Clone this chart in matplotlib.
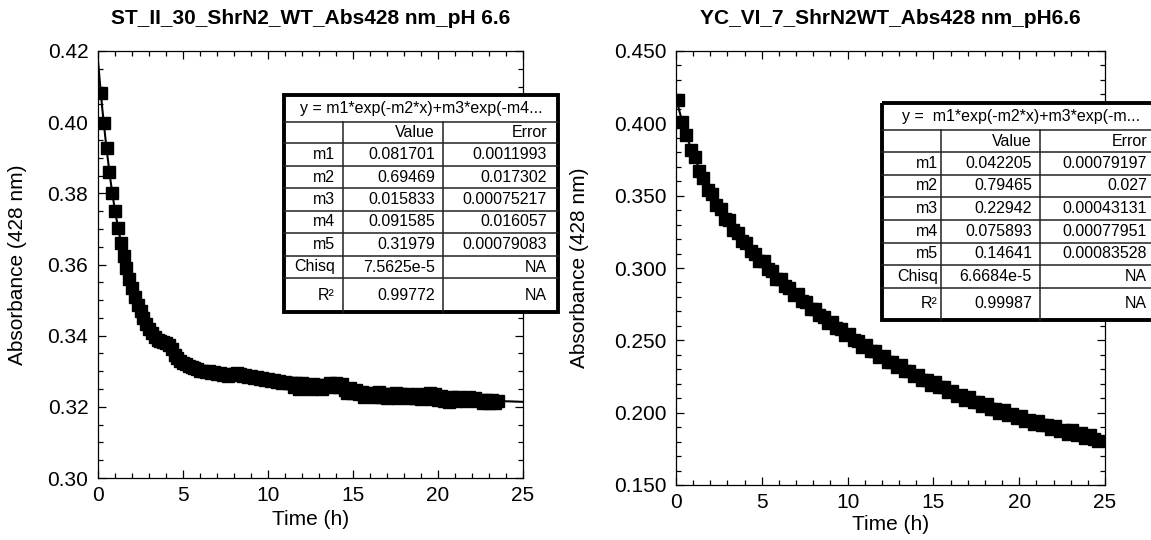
import numpy as np
import matplotlib
matplotlib.use('Agg')
import matplotlib.pyplot as plt
from matplotlib.ticker import MultipleLocator, FormatStrFormatter
from matplotlib.patches import Rectangle

plt.rcParams['font.family'] = ['Liberation Sans', 'DejaVu Sans']

# ---- left run: ST_II_30, one reading every 10 min
time_left = np.arange(1, 142) / 6
abs_left = [
    0.4081, 0.3999, 0.3926, 0.3861, 0.3802, 0.3750, 0.3703, 0.3661, 0.3624, 0.3590,
    0.3560, 0.3533, 0.3509, 0.3487, 0.3468, 0.3450, 0.3434, 0.3420, 0.3407, 0.3395,
    0.3388, 0.3384, 0.3381, 0.3379, 0.3373, 0.3362, 0.3347, 0.3337, 0.3330, 0.3324,
    0.3319, 0.3315, 0.3312, 0.3308, 0.3305, 0.3302, 0.3301, 0.3298, 0.3300, 0.3295,
    0.3297, 0.3292, 0.3294, 0.3289, 0.3291, 0.3288, 0.3290, 0.3293, 0.3295, 0.3292,
    0.3287, 0.3289, 0.3284, 0.3286, 0.3281, 0.3283, 0.3278, 0.3280, 0.3275, 0.3277,
    0.3272, 0.3275, 0.3270, 0.3272, 0.3268, 0.3270, 0.3266, 0.3268, 0.3255, 0.3268,
    0.3250, 0.3266, 0.3252, 0.3262, 0.3249, 0.3265, 0.3253, 0.3260, 0.3250, 0.3262,
    0.3258, 0.3266, 0.3255, 0.3267, 0.3256, 0.3263, 0.3248, 0.3240, 0.3252, 0.3238,
    0.3248, 0.3236, 0.3242, 0.3228, 0.3240, 0.3230, 0.3238, 0.3227, 0.3241, 0.3229,
    0.3237, 0.3226, 0.3236, 0.3228, 0.3239, 0.3225, 0.3235, 0.3227, 0.3236, 0.3224,
    0.3234, 0.3226, 0.3235, 0.3223, 0.3233, 0.3225, 0.3238, 0.3222, 0.3236, 0.3220,
    0.3230, 0.3216, 0.3224, 0.3214, 0.3228, 0.3217, 0.3227, 0.3219, 0.3226, 0.3217,
    0.3228, 0.3218, 0.3226, 0.3216, 0.3220, 0.3212, 0.3220, 0.3211, 0.3219, 0.3212,
    0.3216,
]
fit_x_left = [0, 0.1, 0.25, 0.5, 0.75, 1, 1.5, 2, 3, 4, 5, 7, 10, 13, 16, 19, 22, 25]
fit_y_left = [0.4173, 0.4117, 0.4039, 0.3926, 0.3831, 0.3750, 0.3624, 0.3533, 0.3420,
              0.3358, 0.3323, 0.3289, 0.3262, 0.3246, 0.3235, 0.3226, 0.3219, 0.3214]

# ---- right run: YC_VI_7
time_right = np.arange(99) * 0.25 + 0.1
abs_right = [
    0.4160, 0.4007, 0.3922, 0.3815, 0.3766, 0.3673, 0.3623, 0.3542, 0.3512, 0.3438,
    0.3405, 0.3342, 0.3329, 0.3266, 0.3243, 0.3184, 0.3173, 0.3116, 0.3097, 0.3046,
    0.3045, 0.2992, 0.2978, 0.2927, 0.2923, 0.2873, 0.2860, 0.2816, 0.2820, 0.2772,
    0.2763, 0.2716, 0.2717, 0.2672, 0.2663, 0.2622, 0.2630, 0.2586, 0.2580, 0.2537,
    0.2542, 0.2500, 0.2494, 0.2457, 0.2468, 0.2428, 0.2424, 0.2384, 0.2392, 0.2353,
    0.2350, 0.2315, 0.2329, 0.2291, 0.2290, 0.2253, 0.2263, 0.2226, 0.2225, 0.2193,
    0.2209, 0.2174, 0.2175, 0.2140, 0.2152, 0.2117, 0.2119, 0.2089, 0.2107, 0.2073,
    0.2076, 0.2043, 0.2057, 0.2024, 0.2027, 0.1999, 0.2018, 0.1986, 0.1991, 0.1960,
    0.1975, 0.1944, 0.1948, 0.1921, 0.1943, 0.1912, 0.1918, 0.1888, 0.1905, 0.1875,
    0.1881, 0.1855, 0.1877, 0.1848, 0.1856, 0.1826, 0.1844, 0.1815, 0.1805,
]
fit_x_right = [0, 0.1, 0.25, 0.5, 1, 2, 3, 4, 6, 8, 10, 12.5, 15, 17.5, 20, 22.5, 25]
fit_y_right = [0.4180, 0.4130, 0.4061, 0.3956, 0.3781, 0.3521, 0.3330, 0.3175, 0.2923,
               0.2715, 0.2538, 0.2352, 0.2199, 0.2072, 0.1967, 0.1880, 0.1808]

# ---- fit result tables
row_names = ['m1', 'm2', 'm3', 'm4', 'm5', 'Chisq', 'R²']
left_values = ['0.081701', '0.69469', '0.015833', '0.091585', '0.31979', '7.5625e-5', '0.99772']
left_errors = ['0.0011993', '0.017302', '0.00075217', '0.016057', '0.00079083', 'NA', 'NA']
right_values = ['0.042205', '0.79465', '0.22942', '0.075893', '0.14641', '6.6684e-5', '0.99987']
right_errors = ['0.00079197', '0.027', '0.00043131', '0.00077951', '0.00083528', 'NA', 'NA']

W, H = 1151, 540
fig = plt.figure(figsize=(W / 100, H / 100), dpi=100)


def px_box(x0, y0, x1, y1):
    """figure-fraction rect from pixel corners"""
    return [x0 / W, 1 - y1 / H, (x1 - x0) / W, (y1 - y0) / H]


def style_axes(ax, ylim, ymaj, ymin, fmt, ylab_x, xlab_y):
    ax.set_xlim(0, 25)
    ax.set_ylim(*ylim)
    ax.xaxis.set_major_locator(MultipleLocator(5))
    ax.xaxis.set_minor_locator(MultipleLocator(1))
    ax.yaxis.set_major_locator(MultipleLocator(ymaj))
    ax.yaxis.set_minor_locator(MultipleLocator(ymin))
    ax.yaxis.set_major_formatter(FormatStrFormatter(fmt))
    ax.tick_params(which='both', direction='in', top=True, right=True,
                   labelsize=15, width=0.9, colors='black')
    ax.tick_params(which='major', length=6)
    ax.tick_params(which='minor', length=3.5)
    ax.tick_params(axis='y', pad=7)
    ax.tick_params(axis='x', pad=6)
    for s in ax.spines.values():
        s.set_linewidth(0.9)
    ax.set_xlabel('Time (h)', fontsize=15)
    ax.set_ylabel('Absorbance (428 nm)', fontsize=15)
    ax.yaxis.set_label_coords(ylab_x, 0.5)
    ax.xaxis.set_label_coords(0.5, xlab_y)


ax1 = fig.add_axes(px_box(98, 51, 523, 478))
ax1.plot(fit_x_left, fit_y_left, color='black', lw=1.5)
ax1.plot(time_left, abs_left, ls='none', marker='s', ms=8, color='black')
style_axes(ax1, (0.30, 0.42), 0.02, 0.005, '%.2f', -0.167, -0.075)

ax2 = fig.add_axes(px_box(676, 51, 1105, 485))
ax2.plot(fit_x_right, fit_y_right, color='black', lw=1.5)
ax2.plot(time_right, abs_right, ls='none', marker='s', ms=8.5, color='black')
style_axes(ax2, (0.150, 0.450), 0.05, 0.01, '%.3f', -0.203, -0.069)

fig.text(310.5 / W, 1 - 19 / H, 'ST_II_30_ShrN2_WT_Abs428 nm_pH 6.6',
         ha='center', va='center', fontsize=15, fontweight='bold')
fig.text(890 / W, 1 - 19 / H, 'YC_VI_7_ShrN2WT_Abs428 nm_pH6.6',
         ha='center', va='center', fontsize=15, fontweight='bold')

# overlay in pixel units for the two result boxes
ov = fig.add_axes([0, 0, 1, 1])
ov.set_xlim(0, W)
ov.set_ylim(H, 0)
ov.axis('off')
ov.patch.set_alpha(0)


def draw_table(cols, rows, title, title_x, text_x, values, errors):
    x0, x1 = cols[0], cols[-1]
    y0, y1 = rows[0], rows[-1]
    ov.add_patch(Rectangle((x0, y0), x1 - x0, y1 - y0, fc='white', ec='none'))
    for y in rows[1:-1]:
        ov.plot([x0, x1], [y, y], color='#222222', lw=1.1)
    for x in cols[1:-1]:
        ov.plot([x, x], [rows[1], y1], color='#222222', lw=1.1)
    ov.add_patch(Rectangle((x0, y0), x1 - x0, y1 - y0, fill=False,
                           ec='black', lw=2.8))
    fs = 11.5
    ov.text(title_x, (rows[0] + rows[1]) / 2, title, ha='center', va='center', fontsize=fs)
    yc = (rows[1] + rows[2]) / 2
    ov.text(text_x[1], yc, 'Value', ha='right', va='center', fontsize=fs)
    ov.text(text_x[2], yc, 'Error', ha='right', va='center', fontsize=fs)
    for i, name in enumerate(row_names):
        yc = (rows[i + 2] + rows[i + 3]) / 2
        ov.text(text_x[0], yc, name, ha='right', va='center', fontsize=fs)
        ov.text(text_x[1], yc, values[i], ha='right', va='center', fontsize=fs)
        ov.text(text_x[2], yc, errors[i], ha='right', va='center', fontsize=fs)


draw_table([284, 343, 443, 558], [95, 122, 143, 166, 188, 211, 233, 256, 278, 312],
           'y = m1*exp(-m2*x)+m3*exp(-m4...', 421, [335, 435, 547],
           left_values, left_errors)
draw_table([882, 941, 1040, 1162], [103, 130, 152, 175, 197, 220, 243, 265, 288, 320],
           'y =  m1*exp(-m2*x)+m3*exp(-m...', 1021, [938, 1032, 1147],
           right_values, right_errors)

fig.savefig('out.png', dpi=100)
